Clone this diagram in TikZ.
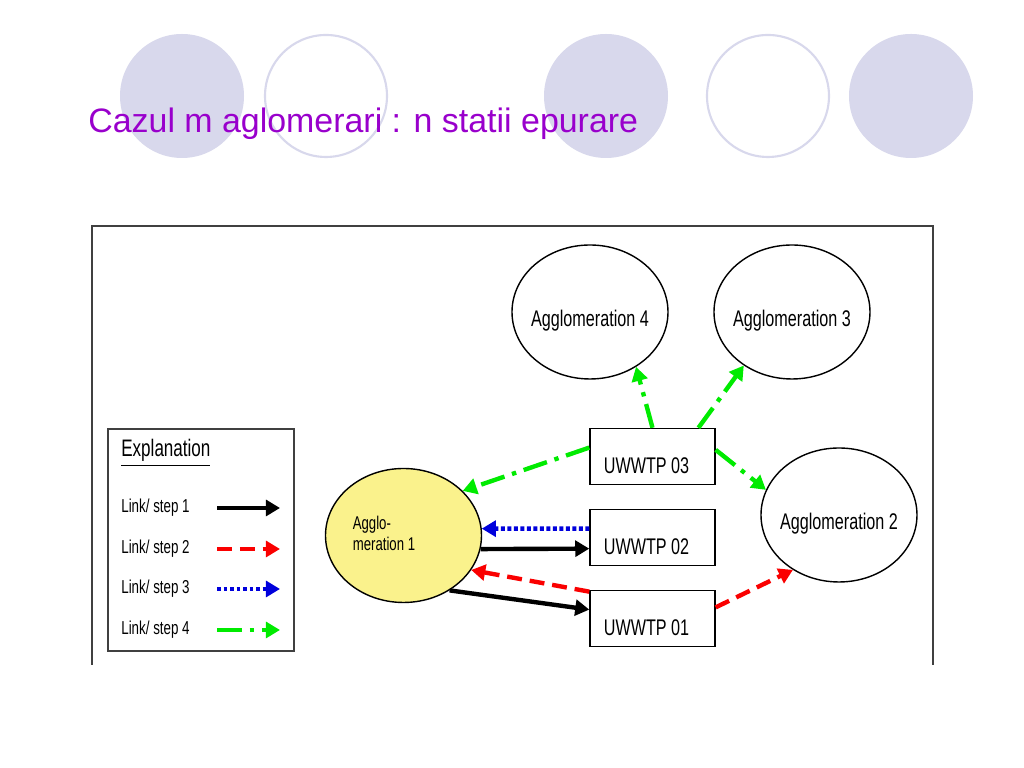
\documentclass[tikz,border=0pt]{standalone}
\usepackage{fontspec}
\setmainfont{Liberation Sans}
\usepackage{graphicx}
\usetikzlibrary{arrows.meta,shapes.geometric}
\definecolor{lavender}{RGB}{216,216,236}
\definecolor{titlepurple}{RGB}{153,0,204}
\definecolor{aggyellow}{RGB}{250,242,140}
\definecolor{linkgreen}{RGB}{0,235,0}
\definecolor{linkblue}{RGB}{0,0,220}
\definecolor{linkred}{RGB}{250,0,0}
\def\tall#1{\scalebox{1}[1.4]{#1}}
\tikzset{
	agglo/.style={draw, ellipse, line width=0.8pt, minimum width=3.12cm, minimum height=2.68cm, inner sep=0pt},
	plant/.style={draw, rectangle, line width=0.8pt, minimum width=2.5cm, minimum height=1.12cm, inner sep=0pt},
	agtext/.style={font=\fontsize{9.2}{11}\selectfont, yshift=-0.17cm},
	keytext/.style={anchor=west, inner sep=0pt, font=\fontsize{7.6}{9}\selectfont},
	link/.style={line width=2.5pt, -{Triangle[length=8pt,width=9pt]}},
	stepone/.style={link, black},
	steptwo/.style={link, linkred, dash pattern=on 8.5pt off 4.5pt},
	stepthree/.style={link, linkblue, dash pattern=on 2.2pt off 1.5pt},
	stepfour/.style={link, linkgreen, dash pattern=on 14pt off 4.5pt on 2.5pt off 4.5pt}
}

\begin{document}
\begin{tikzpicture}
		%%%%% START %%%%%
		\useasboundingbox[fill=white] (0, 0) rectangle (20.48, 15.36);
		
		\fill[lavender] (3.64, 13.44) circle (1.24);
		\draw[lavender, line width=1.2pt] (6.52, 13.44) circle (1.22);
		\fill[lavender] (12.12, 13.44) circle (1.24);
		\draw[lavender, line width=1.2pt] (15.36, 13.44) circle (1.22);
		\fill[lavender] (18.22, 13.44) circle (1.24);
		
		\node[anchor=base west, inner sep=0pt, text=titlepurple, font=\fontsize{19.3}{23}\selectfont] (title) at (1.76, 12.7) {Cazul m aglomerari : n statii epurare};
		
		\draw[black!75, line width=0.8pt] (1.84, 2.06) -- (1.84, 10.84) -- (18.66, 10.84) -- (18.66, 2.06);
		
		% explanation box
		\draw[black!75, line width=0.8pt] (2.16, 2.34) rectangle (5.88, 6.78);
		\node[anchor=west, inner sep=0pt, font=\fontsize{9.7}{11}\selectfont] (expl) at (2.42, 6.3) {\tall{\underline{Explanation}}};
		\node[keytext] (k1) at (2.42, 5.2) {\tall{Link/ step 1}};
		\node[keytext] (k2) at (2.42, 4.38) {\tall{Link/ step 2}};
		\node[keytext] (k3) at (2.42, 3.58) {\tall{Link/ step 3}};
		\node[keytext] (k4) at (2.42, 2.76) {\tall{Link/ step 4}};
		\coordinate (k1a) at (4.34, 5.2);
		\coordinate (k1b) at (5.6, 5.2);
		\coordinate (k2a) at (4.34, 4.38);
		\coordinate (k2b) at (5.6, 4.38);
		\coordinate (k3a) at (4.34, 3.58);
		\coordinate (k3b) at (5.6, 3.58);
		\coordinate (k4a) at (4.34, 2.76);
		\coordinate (k4b) at (5.6, 2.76);
		\draw[stepone] (k1a) -- (k1b);
		\draw[steptwo] (k2a) -- (k2b);
		\draw[stepthree] (k3a) -- (k3b);
		\draw[stepfour] (k4a) -- (k4b);
		
		% agglomerations and plants
		\node[agglo, fill=aggyellow, label={[font=\fontsize{7.5}{8.5}\selectfont, xshift=-0.39cm]center:\tall{\begin{tabular}{@{}l@{}}Agglo-\\meration 1\end{tabular}}}] (a1) at (8.07, 4.65) {};
		\node[agglo, label={[agtext]center:\tall{Agglomeration 2}}] (a2) at (16.78, 5.06) {};
		\node[agglo, label={[agtext]center:\tall{Agglomeration 3}}] (a3) at (15.84, 9.12) {};
		\node[agglo, label={[agtext]center:\tall{Agglomeration 4}}] (a4) at (11.8, 9.12) {};
		
		\node[plant, label={[agtext, xshift=-0.12cm, yshift=-0.02cm]center:\tall{UWWTP 03}}] (u3) at (13.05, 6.23) {};
		\node[plant, label={[agtext, xshift=-0.12cm, yshift=-0.02cm]center:\tall{UWWTP 02}}] (u2) at (13.05, 4.61) {};
		\node[plant, label={[agtext, xshift=-0.12cm, yshift=-0.02cm]center:\tall{UWWTP 01}}] (u1) at (13.05, 2.99) {};
		
		% links
		\draw[stepone] (a1.-10) -- (u2.190);
		\draw[stepone] (a1.-50) -- (u1.172);
		\draw[stepthree] (u2.172) -- (a1.5);
		\draw[steptwo] (u1.157) -- (a1.-27);
		\draw[steptwo] (u1.10) -- (a2.230);
		\draw[stepfour] (u3.172) -- (a1.37);
		\draw[stepfour] (u3.north) -- (a4.-50);
		\draw[stepfour] (u3.32) -- (a3.228);
		\draw[stepfour] (u3.6) -- (a2.161);
		
		%%%%% END %%%%%
\end{tikzpicture}
\end{document}
